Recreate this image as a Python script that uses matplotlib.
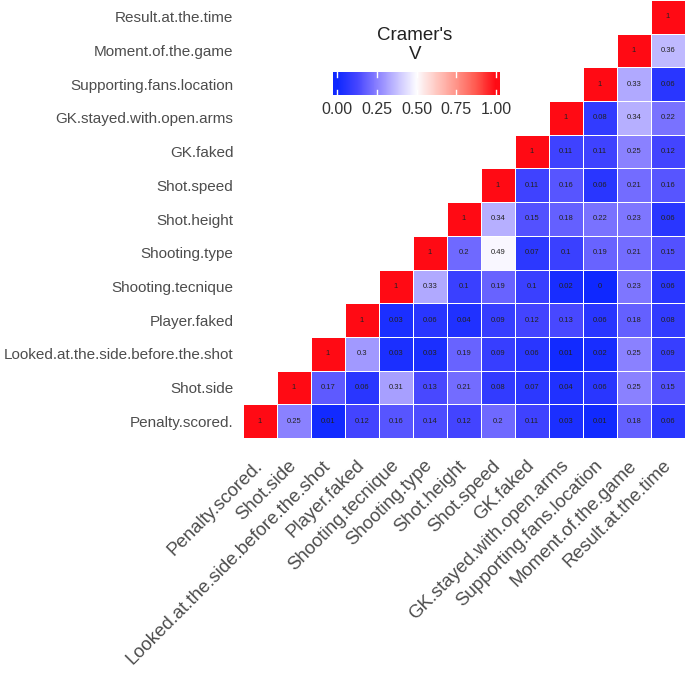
import numpy as np
import matplotlib
matplotlib.use("Agg")
import matplotlib.pyplot as plt
from matplotlib.colors import LinearSegmentedColormap

plt.rcParams['font.family'] = ['Liberation Sans', 'DejaVu Sans']

variables = ["Penalty.scored.", "Shot.side", "Looked.at.the.side.before.the.shot",
             "Player.faked", "Shooting.tecnique", "Shooting.type", "Shot.height",
             "Shot.speed", "GK.faked", "GK.stayed.with.open.arms",
             "Supporting.fans.location", "Moment.of.the.game", "Result.at.the.time"]

# upper triangle, row i holds columns i..12
upper_rows = [
    [1, 0.25, 0.01, 0.12, 0.16, 0.14, 0.12, 0.2, 0.11, 0.03, 0.01, 0.18, 0.06],
    [1, 0.17, 0.06, 0.31, 0.13, 0.21, 0.08, 0.07, 0.04, 0.06, 0.25, 0.15],
    [1, 0.3, 0.03, 0.03, 0.19, 0.09, 0.06, 0.01, 0.02, 0.25, 0.09],
    [1, 0.03, 0.06, 0.04, 0.09, 0.12, 0.13, 0.06, 0.18, 0.08],
    [1, 0.33, 0.1, 0.19, 0.1, 0.02, 0, 0.23, 0.06],
    [1, 0.2, 0.49, 0.07, 0.1, 0.19, 0.21, 0.15],
    [1, 0.34, 0.15, 0.18, 0.22, 0.23, 0.06],
    [1, 0.11, 0.16, 0.06, 0.21, 0.16],
    [1, 0.11, 0.11, 0.25, 0.12],
    [1, 0.08, 0.34, 0.22],
    [1, 0.33, 0.06],
    [1, 0.36],
    [1],
]

n = len(variables)
mat = np.full((n, n), np.nan)
for i, row in enumerate(upper_rows):
    mat[i, i:] = row
masked = np.ma.masked_invalid(mat)

cmap = LinearSegmentedColormap.from_list("cramer", [
    (0.0, "#0f28ff"), (0.125, "#4646ff"), (0.25, "#8a80ff"), (0.375, "#c6c0ff"),
    (0.5, "#fdfcff"), (0.625, "#ffc9c2"), (0.75, "#ff958a"), (0.875, "#ff5a50"),
    (1.0, "#ff0a14")])

fig = plt.figure(figsize=(6.85, 6.75), dpi=100)
ax = fig.add_axes([243/685, 1 - 438/675, 442/685, 438/675])
ax.pcolormesh(np.arange(n + 1), np.arange(n + 1), masked, cmap=cmap,
              vmin=0, vmax=1, edgecolors="white", linewidth=0.6)
for i in range(n):
    for j in range(i, n):
        v = mat[i, j]
        txt = "1" if v == 1 else ("0" if v == 0 else f"{v:g}")
        ax.text(j + 0.5, i + 0.5, txt, ha="center", va="center", fontsize=5.5, color="#222222")

ax.set_xlim(0, n)
ax.set_ylim(0, n)
ax.set_xticks(np.arange(n) + 0.5)
ax.set_yticks(np.arange(n) + 0.5)
ax.set_xticklabels(variables, rotation=45, ha="right", va="center",
                   rotation_mode="anchor", fontsize=13.4, color="#4d4d4d")
ax.set_yticklabels(variables, fontsize=11, color="#4d4d4d")
ax.tick_params(axis="x", length=0, pad=18)
ax.tick_params(axis="y", length=0, pad=7)
for s in ax.spines.values():
    s.set_visible(False)

# legend colorbar
cax = fig.add_axes([333/685, 1 - 95/675, 167/685, 23/675])
grad = np.linspace(-0.025, 1.025, 256).reshape(1, -1)
cax.imshow(np.clip(grad, 0, 1), aspect="auto", cmap=cmap, vmin=0, vmax=1,
           extent=[-0.025, 1.025, 0, 1])
for t in [0, 0.25, 0.5, 0.75, 1.0]:
    cax.plot([t, t], [0, 0.2], color="white", lw=1)
    cax.plot([t, t], [0.8, 1], color="white", lw=1)
cax.set_xlim(-0.025, 1.025)
cax.set_ylim(0, 1)
cax.set_xticks([0, 0.25, 0.5, 0.75, 1.0])
cax.set_xticklabels(["0.00", "0.25", "0.50", "0.75", "1.00"], fontsize=11.5, color="#333333")
cax.set_yticks([])
cax.tick_params(length=0, pad=5)
for s in cax.spines.values():
    s.set_visible(False)
fig.text(415/685, 1 - 45/675, "Cramer's\nV", ha="center", va="center",
         fontsize=13.5, color="#222222", linespacing=1.1)

fig.savefig("out.png", dpi=100)
